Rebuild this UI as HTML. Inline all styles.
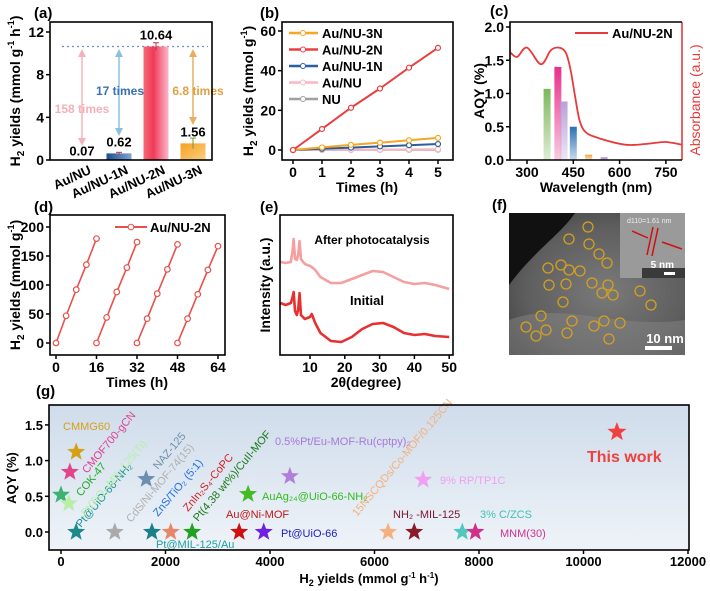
<!DOCTYPE html>
<html><head><meta charset="utf-8"><style>
html,body{margin:0;padding:0;background:#fff;}
svg{display:block;font-family:"Liberation Sans",Arial,sans-serif;font-weight:bold;}
</style></head><body>
<svg id="fig" xmlns="http://www.w3.org/2000/svg" width="710" height="591" viewBox="0 0 710 591">
<defs>
<linearGradient id="g2n" x1="0" x2="1" y1="0" y2="0"><stop offset="0" stop-color="#f46a7a"/><stop offset="0.4" stop-color="#f03a55"/><stop offset="1" stop-color="#f9b8cc"/></linearGradient>
<linearGradient id="g3n" x1="0" x2="1" y1="0" y2="1"><stop offset="0" stop-color="#f5a020"/><stop offset="1" stop-color="#fbd080"/></linearGradient>
<linearGradient id="g1n" x1="0" x2="1"><stop offset="0" stop-color="#1e4f8e"/><stop offset="1" stop-color="#7aa6d6"/></linearGradient>
<linearGradient id="gbg" x1="0" x2="0" y1="0" y2="1"><stop offset="0" stop-color="#cfdceb"/><stop offset="1" stop-color="#eef3f8"/></linearGradient>
<radialGradient id="gtem" cx="0.55" cy="0.55" r="0.75"><stop offset="0" stop-color="#7a7a7a"/><stop offset="0.6" stop-color="#5e5e5e"/><stop offset="1" stop-color="#3c3c3c"/></radialGradient>
</defs>

<!-- panel labels -->
<text x="34" y="18" font-size="15">(a)</text>
<text x="260" y="18" font-size="15">(b)</text>
<text x="490" y="16" font-size="15">(c)</text>
<text x="34" y="212" font-size="15">(d)</text>
<text x="260" y="212" font-size="15">(e)</text>
<text x="492" y="210" font-size="15">(f)</text>
<text x="36" y="396" font-size="15">(g)</text>

<!-- axis titles -->
<text transform="translate(20,91) rotate(-90)" text-anchor="middle" font-size="14">H<tspan font-size="10" dy="4">2</tspan><tspan dy="-4"> yields (mmol g</tspan><tspan font-size="9" dy="-6">-1</tspan><tspan dy="6"> h</tspan><tspan font-size="9" dy="-6">-1</tspan><tspan dy="6">)</tspan></text>
<text transform="translate(253,91) rotate(-90)" text-anchor="middle" font-size="14">H<tspan font-size="10" dy="4">2</tspan><tspan dy="-4"> yields (mmol g</tspan><tspan font-size="9" dy="-6">-1</tspan><tspan dy="6">)</tspan></text>
<text x="367" y="192" text-anchor="middle" font-size="14">Times (h)</text>
<text transform="translate(484,91) rotate(-90)" text-anchor="middle" font-size="14">AQY (%)</text>
<text transform="translate(700,100) rotate(-90)" text-anchor="middle" font-size="14" fill="#e83a3a" font-weight="normal">Absorbance (a.u.)</text>
<text x="596" y="192" text-anchor="middle" font-size="14">Wavelength (nm)</text>
<text transform="translate(20,285) rotate(-90)" text-anchor="middle" font-size="14">H<tspan font-size="10" dy="4">2</tspan><tspan dy="-4"> yields (mmol g</tspan><tspan font-size="9" dy="-6">-1</tspan><tspan dy="6">)</tspan></text>
<text x="137" y="387" text-anchor="middle" font-size="14">Times (h)</text>
<text transform="translate(270,285) rotate(-90)" text-anchor="middle" font-size="14">Intensity (a.u.)</text>
<text x="366" y="387" text-anchor="middle" font-size="14">2θ(degree)</text>
<text transform="translate(16,478) rotate(-90)" text-anchor="middle" font-size="13">AQY (%)</text>
<text x="369" y="583" text-anchor="middle" font-size="13">H<tspan font-size="9" dy="3">2</tspan><tspan dy="-3"> yields (mmol g</tspan><tspan font-size="8" dy="-5">-1</tspan><tspan dy="5"> h</tspan><tspan font-size="8" dy="-5">-1</tspan><tspan dy="5">)</tspan></text>

<g id="layer"></g>
</svg>
<script>
// ---------- data ----------
var aCats = ["Au/NU","Au/NU-1N","Au/NU-2N","Au/NU-3N"];
var aVals = [0.07, 0.62, 10.64, 1.56];
var aErr = [0, 0.1, 0.35, 0.5];
var aTicks = [0, 4, 8, 12];

var bTimes = [0, 1, 2, 3, 4, 5];
var b3N = [0, 1.3, 2.6, 3.7, 4.9, 6.1];
var b2N = [0, 10.6, 21.3, 31, 41.5, 51.5];
var b1N = [0, 0.6, 1.2, 1.8, 2.4, 3.0];
var bAu = [0, 0.1, 0.15, 0.2, 0.3, 0.35];
var bNU = [0, 0.05, 0.08, 0.1, 0.12, 0.15];
var bYTicks = [0, 20, 40, 60];

var cWave = [365, 400, 420, 450, 500, 550, 650];
var cAQY = [1.07, 1.4, 0.88, 0.5, 0.08, 0.04, 0.01];
var absWave = [245, 268, 300, 345, 377, 403, 425, 440, 455, 470, 490, 532, 618, 683, 748, 802];
var absVal = [1.62, 1.55, 1.69, 1.44, 1.65, 1.69, 1.62, 1.38, 0.98, 0.6, 0.42, 0.33, 0.23, 0.24, 0.27, 0.23];
var cXTicks = [300, 450, 600, 750];
var cYTicks = [0, 0.5, 1.0, 1.5, 2.0];

var dCycles = [[0,4,8,12,16],[16,20,24,28,32],[32,36,40,44,48],[48,52,56,60,64]];
var dVals = [[0,47,92,135,180],[0,44,88,130,174],[0,42,85,127,170],[0,42,84,126,167]];
var dXTicks = [0,16,32,48,64];
var dYTicks = [0,50,100,150,200];

var eTheta = [1.5,3,4.5,5.0,5.3,5.7,6.2,6.6,7.0,7.4,8.5,10,10.5,11.5,13,16,19,22,25,28,31,34,37,40,43,46,50];
var eAfter = [93,92,93,104,116,96,95,100,114,96,91,89,88,85,78,72,72,76,80,84,83,78,73,71,72,70,66];
var eInit = [52,50,52,58,63,44,40,45,62,40,36,38,41,32,22,14,13,18,26,31,32,28,22,20,21,19,18];
var eXTicks = [10,20,30,40,50];

var gX = [0,150,170,290,290,1030,1630,1740,2100,2510,3410,3580,3880,4380,6260,6760,6930,7680,7930,10640];
var gY = [0.52,0.4,0.84,1.12,0,0,0.74,0,0,0,0,0.53,0,0.78,0,0,0.73,0,0,1.4];
var gColors = ["#3cb371","#b8eea8","#e0458a","#d4a017","#1a8a8a","#aaaaaa","#6a8fb0","#1a7f86","#e8866a","#22a022","#d01010","#44bb22","#7020e0","#b080d8","#f5b080","#8b1a2a","#f0a0f0","#50c8c0","#d0308a","#f04040"];
var gXTicks = [0,2000,4000,6000,8000,10000,12000];
var gYTicks = [0,0.5,1.0,1.5];

// ---------- helpers ----------
var NS = "http://www.w3.org/2000/svg";
var L = document.getElementById("layer");
function mk(tag, attrs, name, parent) {
  var el = document.createElementNS(NS, tag);
  for (var k in attrs) el.setAttribute(k, attrs[k]);
  
  
  (parent || L).appendChild(el);
  return el;
}
function tx(x, y, s, attrs, name) {
  var a = {x: x, y: y};
  for (var k in attrs) a[k] = attrs[k];
  var el = mk("text", a, name);
  el.textContent = s;
  return el;
}
function box(x1, y1, x2, y2, name) {
  mk("rect", {x: x1, y: y1, width: x2 - x1, height: y2 - y1, fill: "none", stroke: "#000", "stroke-width": 1.6}, name);
}
function pts(xs, ys, fx, fy) {
  return xs.map(function (v, i) { return fx(v) + "," + fy(ys[i]); }).join(" ");
}
function smooth(xs, ys, fx, fy) {
  var P = xs.map(function (v, i) { return [fx(v), fy(ys[i])]; });
  var d = "M" + P[0][0] + "," + P[0][1];
  for (var i = 0; i < P.length - 1; i++) {
    var p0 = P[Math.max(0, i - 1)], p1 = P[i], p2 = P[i + 1], p3 = P[Math.min(P.length - 1, i + 2)];
    var c1x = p1[0] + (p2[0] - p0[0]) / 6, c1y = p1[1] + (p2[1] - p0[1]) / 6;
    var c2x = p2[0] - (p3[0] - p1[0]) / 6, c2y = p2[1] - (p3[1] - p1[1]) / 6;
    d += " C" + c1x.toFixed(1) + "," + c1y.toFixed(1) + " " + c2x.toFixed(1) + "," + c2y.toFixed(1) + " " + p2[0].toFixed(1) + "," + p2[1].toFixed(1);
  }
  return d;
}
function star(cx, cy, R) {
  var p = [];
  for (var i = 0; i < 10; i++) {
    var r = i % 2 ? R * 0.42 : R;
    var a = -Math.PI / 2 + i * Math.PI / 5;
    p.push((cx + r * Math.cos(a)).toFixed(1) + "," + (cy + r * Math.sin(a)).toFixed(1));
  }
  return p.join(" ");
}

// ---------- panel a ----------
function ya(v) { return 160 - v * 128 / 12; }
function xa(i) { return 82 + 37 * i; }
aTicks.forEach(function (t) {
  mk("line", {x1: 46, x2: 50, y1: ya(t), y2: ya(t), stroke: "#000", "stroke-width": 1.5}, "a-y-tick");
  tx(44, ya(t) + 5, String(t), {"text-anchor": "end", "font-size": 14}, "a-y-tick-label");
});
mk("line", {x1: 62, x2: 208, y1: ya(10.64), y2: ya(10.64), stroke: "#6a8fc0", "stroke-width": 1.2, "stroke-dasharray": "2,3"}, "a-reference-line");
var aFills = ["#e9b0b8", "url(#g1n)", "url(#g2n)", "url(#g3n)"];
aVals.forEach(function (v, i) {
  mk("rect", {x: xa(i) - 12.5, y: ya(v), width: 25, height: 160 - ya(v), fill: aFills[i]}, "a-bar-" + aCats[i].toLowerCase().replace(/\//g, "-"));
  if (aErr[i] > 0) {
    mk("line", {x1: xa(i), x2: xa(i), y1: ya(v + aErr[i]), y2: ya(v - aErr[i]), stroke: i == 3 ? "#7a9a30" : "#c03040", "stroke-width": 1}, "a-error-bar");
    mk("line", {x1: xa(i) - 3, x2: xa(i) + 3, y1: ya(v + aErr[i]), y2: ya(v + aErr[i]), stroke: i == 3 ? "#7a9a30" : "#c03040", "stroke-width": 1}, "a-error-cap");
  }
  tx(xa(i), ya(v) - (i == 0 ? 4 : 7), v.toFixed(2), {"text-anchor": "middle", "font-size": 13}, "a-value-label");
  tx(xa(i) + 10, 173, aCats[i], {"text-anchor": "end", "font-size": 13, transform: "rotate(-25 " + (xa(i) + 10) + " 173)"}, "a-x-tick-label");
});
var arrows = [[0, "#f2b4bc", 143], [1, "#8cc0dc", 133], [3, "#e6b060", 122]];
arrows.forEach(function (a) {
  var x = xa(a[0]);
  mk("line", {x1: x, x2: x, y1: 52, y2: a[2], stroke: a[1], "stroke-width": 1.5}, "a-fold-arrow");
  mk("polygon", {points: (x - 4) + ",57 " + x + ",49 " + (x + 4) + ",57", fill: a[1]}, "a-arrow-head");
  mk("polygon", {points: (x - 4) + "," + (a[2] - 5) + " " + x + "," + (a[2] + 3) + " " + (x + 4) + "," + (a[2] - 5), fill: a[1]}, "a-arrow-head");
});
tx(82, 113, "158 times", {"text-anchor": "middle", "font-size": 12, fill: "#f4b0b8"}, "a-fold-label-158");
tx(120, 95, "17 times", {"text-anchor": "middle", "font-size": 12, fill: "#3a70b0"}, "a-fold-label-17");
tx(198, 95, "6.8 times", {"text-anchor": "middle", "font-size": 12, fill: "#e0a040"}, "a-fold-label-6-8");
box(50, 22, 212, 160, "a-plot-frame");

// ---------- panel b ----------
function xb(t) { return 293 + t * 29; }
function yb(v) { return 150 - v * 119 / 60; }
bYTicks.forEach(function (t) {
  mk("line", {x1: 278, x2: 282, y1: yb(t), y2: yb(t), stroke: "#000", "stroke-width": 1.5}, "b-y-tick");
  tx(276, yb(t) + 5, String(t), {"text-anchor": "end", "font-size": 14}, "b-y-tick-label");
});
bTimes.forEach(function (t) {
  mk("line", {x1: xb(t), x2: xb(t), y1: 160, y2: 164, stroke: "#000", "stroke-width": 1.5}, "b-x-tick");
  tx(xb(t), 177, String(t), {"text-anchor": "middle", "font-size": 14}, "b-x-tick-label");
});
var bSeries = [[bNU, "#a0a0a0", "NU"], [bAu, "#f7b8c4", "Au/NU"], [b1N, "#2a5fa0", "Au/NU-1N"], [b3N, "#f5a623", "Au/NU-3N"], [b2N, "#e84040", "Au/NU-2N"]];
bSeries.forEach(function (s) {
  mk("polyline", {points: pts(bTimes, s[0], xb, yb), fill: "none", stroke: s[1], "stroke-width": 2}, "b-line-" + s[2].toLowerCase().replace(/\//g, "-"));
  bTimes.forEach(function (t, i) {
    mk("circle", {cx: xb(t), cy: yb(s[0][i]), r: 2.5, fill: "#fff", stroke: s[1], "stroke-width": 1.2}, "b-point");
  });
});
var bLeg = [["Au/NU-3N", "#f5a623"], ["Au/NU-2N", "#e84040"], ["Au/NU-1N", "#2a5fa0"], ["Au/NU", "#f7b8c4"], ["NU", "#a0a0a0"]];
bLeg.forEach(function (l, i) {
  var y = 33 + i * 16.5;
  mk("line", {x1: 289, x2: 318, y1: y, y2: y, stroke: l[1], "stroke-width": 2.5}, "b-legend-swatch");
  mk("circle", {cx: 303, cy: y, r: 2.5, fill: "#fff", stroke: l[1]}, "b-legend-marker");
  tx(322, y + 5, l[0], {"font-size": 13}, "b-legend-entry");
});
box(282, 22, 453, 160, "b-plot-frame");

// ---------- panel c ----------
function xc(w) { return 527 + (w - 300) * 46.3 / 150; }
function yc(a) { return 160 - a * 66.5; }
cYTicks.forEach(function (t) {
  mk("line", {x1: 506, x2: 510, y1: yc(t), y2: yc(t), stroke: "#000", "stroke-width": 1.5}, "c-y-tick");
  tx(504, yc(t) + 5, t.toFixed(1), {"text-anchor": "end", "font-size": 14}, "c-y-tick-label");
});
cXTicks.forEach(function (t) {
  mk("line", {x1: xc(t), x2: xc(t), y1: 160, y2: 164, stroke: "#000", "stroke-width": 1.5}, "c-x-tick");
  tx(xc(t), 177, String(t), {"text-anchor": "middle", "font-size": 14}, "c-x-tick-label");
});
var cCols = ["#7cb85a", "#e8308a", "#b8a0d8", "#2a70b0", "#f5a040", "#a070c8", "#d0b070"];
cWave.forEach(function (w, i) {
  var g = mk("linearGradient", {id: "cb" + i, x1: 0, x2: 0, y1: 0, y2: 1}, "c-bar-gradient", document.querySelector("defs"));
  mk("stop", {offset: 0, "stop-color": cCols[i]}, "gradient-stop", g);
  mk("stop", {offset: 1, "stop-color": cCols[i], "stop-opacity": 0.25}, "gradient-stop", g);
  mk("rect", {x: xc(w) - 3.5, y: yc(cAQY[i]), width: 7, height: 160 - yc(cAQY[i]), fill: "url(#cb" + i + ")"}, "c-aqy-bar");
});
function yAbs(a) { return 160 - a * 66.5; }
mk("path", {d: smooth(absWave, absVal, xc, yAbs), fill: "none", stroke: "#e83a3a", "stroke-width": 1.8}, "c-absorbance-line");
mk("line", {x1: 575, x2: 608, y1: 33, y2: 33, stroke: "#e83a3a", "stroke-width": 2}, "c-legend-swatch");
tx(612, 38, "Au/NU-2N", {"font-size": 13}, "c-legend-entry");
mk("line", {x1: 682, x2: 682, y1: 22, y2: 160, stroke: "#e83a3a", "stroke-width": 1.6}, "c-right-axis");
mk("polyline", {points: "682,22 510,22 510,160 682,160", fill: "none", stroke: "#000", "stroke-width": 1.6}, "c-plot-frame");

// ---------- panel d ----------
function xd(t) { return 56 + t * 40.5 / 16; }
function yd(v) { return 343 - v * 116 / 200; }
dYTicks.forEach(function (t) {
  mk("line", {x1: 46, x2: 50, y1: yd(t), y2: yd(t), stroke: "#000", "stroke-width": 1.5}, "d-y-tick");
  tx(44, yd(t) + 5, String(t), {"text-anchor": "end", "font-size": 14}, "d-y-tick-label");
});
dXTicks.forEach(function (t) {
  mk("line", {x1: xd(t), x2: xd(t), y1: 355, y2: 359, stroke: "#000", "stroke-width": 1.5}, "d-x-tick");
  tx(xd(t), 372, String(t), {"text-anchor": "middle", "font-size": 14}, "d-x-tick-label");
});
dCycles.forEach(function (c, k) {
  mk("polyline", {points: pts(c, dVals[k], xd, yd), fill: "none", stroke: "#e8504a", "stroke-width": 1.6}, "d-cycle-line");
  c.forEach(function (t, i) {
    mk("circle", {cx: xd(t), cy: yd(dVals[k][i]), r: 2.8, fill: "#fff", stroke: "#e8504a", "stroke-width": 1.2}, "d-point");
  });
});
mk("line", {x1: 115, x2: 147, y1: 227, y2: 227, stroke: "#e8504a", "stroke-width": 2}, "d-legend-swatch");
mk("circle", {cx: 131, cy: 227, r: 2.8, fill: "#fff", stroke: "#e8504a"}, "d-legend-marker");
tx(150, 232, "Au/NU-2N", {"font-size": 13}, "d-legend-entry");
box(50, 215, 225, 355, "d-plot-frame");

// ---------- panel e ----------
function xe(v) { return 310 + (v - 10) * 3.48; }
function ye(I) { return 355 - I; }
eXTicks.forEach(function (t) {
  mk("line", {x1: xe(t), x2: xe(t), y1: 355, y2: 359, stroke: "#000", "stroke-width": 1.5}, "e-x-tick");
  tx(xe(t), 372, String(t), {"text-anchor": "middle", "font-size": 14}, "e-x-tick-label");
});
mk("polyline", {points: pts(eTheta, eAfter, xe, ye), fill: "none", stroke: "#f4a0a0", "stroke-width": 2.6, "stroke-linejoin": "round"}, "e-after-curve");
mk("polyline", {points: pts(eTheta, eInit, xe, ye), fill: "none", stroke: "#e83030", "stroke-width": 2.6, "stroke-linejoin": "round"}, "e-initial-curve");
tx(372, 244, "After photocatalysis", {"text-anchor": "middle", "font-size": 12}, "e-after-label");
tx(367, 305, "Initial", {"text-anchor": "middle", "font-size": 13}, "e-initial-label");
box(280, 215, 453, 355, "e-plot-frame");

// ---------- panel f (TEM image) ----------
mk("rect", {x: 509, y: 213, width: 176, height: 142, fill: "url(#gtem)"}, "f-tem-image");
mk("path", {d: "M509,213 L575,213 C560,235 535,250 509,285 Z", fill: "#111"}, "f-dark-region");
mk("path", {d: "M509,320 C560,300 620,330 685,320 L685,355 L509,355 Z", fill: "#8a8a8a", opacity: 0.45}, "f-bright-region");
mk("rect", {x: 620, y: 213, width: 65, height: 65, fill: "#9a9a9a"}, "f-hrtem-inset");
mk("rect", {x: 642, y: 268, width: 43, height: 10, fill: "#3a3a3a"}, "f-inset-scale-bg");
var circ = [[588,227],[569,239],[589,244],[599,254],[607,263],[548,268],[561,265],[569,270],[580,271],[549,285],[566,284],[592,283],[608,285],[602,293],[613,295],[640,291],[651,305],[563,302],[541,316],[526,327],[546,330],[536,336],[572,321],[567,333],[594,326],[604,321],[620,323],[609,339]];
circ.forEach(function (c) { mk("circle", {cx: c[0], cy: c[1], r: 5, fill: "none", stroke: "#d4a020", "stroke-width": 1.3}, "f-particle-marker"); });
tx(627, 223, "d110=1.61 nm", {"font-size": 7, fill: "#eee", "font-weight": "normal"}, "f-lattice-spacing-label");
mk("line", {x1: 653, x2: 647, y1: 227, y2: 255, stroke: "#d01010", "stroke-width": 1.5}, "f-lattice-line");
mk("line", {x1: 658, x2: 652, y1: 228, y2: 256, stroke: "#d01010", "stroke-width": 1.5}, "f-lattice-line");
mk("line", {x1: 632, x2: 648, y1: 231, y2: 238, stroke: "#d01010", "stroke-width": 1.5}, "f-arrow-left");
mk("line", {x1: 682, x2: 662, y1: 249, y2: 242, stroke: "#d01010", "stroke-width": 1.5}, "f-arrow-right");
tx(674, 268, "5 nm", {"text-anchor": "end", "font-size": 10, fill: "#fff"}, "f-inset-scale-label");
mk("rect", {x: 664, y: 272, width: 11, height: 3, fill: "#fff"}, "f-inset-scale-bar");
tx(665, 343, "10 nm", {"text-anchor": "middle", "font-size": 13, fill: "#fff"}, "f-scale-label");
mk("rect", {x: 645, y: 346, width: 27, height: 4, fill: "#fff"}, "f-scale-bar");

// ---------- panel g ----------
function xg(v) { return 61 + v * 627 / 12000; }
function yg(v) { return 532 - v * 71.4; }
mk("rect", {x: 49, y: 405, width: 640, height: 145, fill: "url(#gbg)"}, "g-plot-background");
gYTicks.forEach(function (t) {
  mk("line", {x1: 45, x2: 49, y1: yg(t), y2: yg(t), stroke: "#000", "stroke-width": 1.5}, "g-y-tick");
  tx(43, yg(t) + 5, t.toFixed(1), {"text-anchor": "end", "font-size": 13}, "g-y-tick-label");
});
gXTicks.forEach(function (t) {
  mk("line", {x1: xg(t), x2: xg(t), y1: 550, y2: 554, stroke: "#000", "stroke-width": 1.5}, "g-x-tick");
  tx(xg(t), 566, String(t), {"text-anchor": "middle", "font-size": 13}, "g-x-tick-label");
});
gX.forEach(function (v, i) {
  mk("polygon", {points: star(xg(v), yg(gY[i]), i == 19 ? 10 : 9.5), fill: gColors[i]}, "g-star-point");
});
var hl = [["CMMG60", 63, 430, "#d4a017", 11], ["0.5%Pt/Eu-MOF-Ru(cptpy)₂", 275, 445, "#a878d8", 11], ["This work", 587, 462, "#f04040", 16], ["9% RP/TP1C", 440, 484, "#f0a0f0", 11], ["AuAg₂₄@UiO-66-NH₂", 262, 500, "#33bb22", 11], ["Au@Ni-MOF", 226, 518, "#c01818", 11], ["NH₂ -MIL-125", 393, 518, "#7a1530", 11], ["3% C/ZCS", 480, 518, "#40c0b8", 11], ["Pt@UiO-66", 281, 537, "#2020c0", 11], ["MNM(30)", 500, 537, "#d03090", 11], ["Pt@MIL-125/Au", 156, 548, "#20a0a0", 11]];
hl.forEach(function (h) { tx(h[1], h[2], h[0], {"font-size": h[4], fill: h[3], "font-weight": h[4] > 12 ? "bold" : "normal"}, "g-point-label"); });
var rl = [["Pt@UiO-66-NH₂", 81, 528, "#1a9090"], ["CdS/Ni-MOF-74(15)", 131, 523, "#b0b0b0"], ["ZnS/TiO₂ (5:1)", 158, 517, "#2070e0"], ["ZnIn₂S₄-CoPC", 188, 512, "#d02020"], ["Pt(4.38 wt%)/CuII-MOF", 198, 522, "#1a7a1a"], ["COK-47", 81, 497, "#22aa22"], ["Pt/TiO₂-MIL-125(Ti)", 86, 517, "#b8f0a8"], ["CMOF700-gCN", 87, 474, "#e04090"], ["NAZ-125", 158, 470, "#7090a8"], ["15NSCQDs/Co-MOF/0.125CN", 357, 517, "#f5b07a"]];
rl.forEach(function (r) { tx(r[1], r[2], r[0], {"font-size": 11, fill: r[3], "font-weight": "normal", transform: "rotate(-50 " + r[1] + " " + r[2] + ")"}, "g-rotated-point-label"); });
box(49, 405, 689, 550, "g-plot-frame");
</script>
</body></html>
